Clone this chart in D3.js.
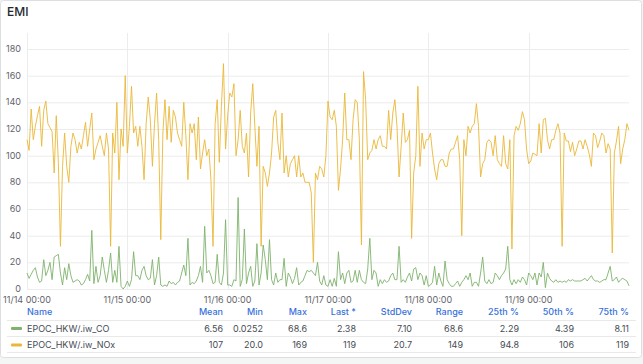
<!DOCTYPE html>
<html>
<head>
<meta charset="utf-8">
<script src="https://cdn.jsdelivr.net/npm/d3@7"></script>
<style>
  html, body { margin: 0; padding: 0; background: #f4f5f5; }
  body { width: 643px; height: 364px; overflow: hidden; font-family: Inter, "Noto Sans", sans-serif; }
  svg { display: block; }
</style>
</head>
<body>
<svg id="chart" width="643" height="364"></svg>
<script>
// series values, one point every 30 minutes from 11/14 00:00 to 11/20 00:00
const coValues = [
  12,8,11,14,16,9,5,6,22,10,14,20,7,24,25,26,12,3,16,7,19,10,5,6,7,6,3,4,7,11,6,44,4,17,5,10,24,14,5,14,27,5,14,5,32,2,0.0252,2,
  6,2,7,28,10,10,7,14,17,10,7,8,22,3,10,24,3,2,3,2,6,4,5,3,5,6,12,18,10,38,3,5,4,6,10,17,5,47,12,14,10,4,5,26,5,3,12,52,
  3,3,2,7,6,68.6,2,7,45,4,12,17,2,6,34,3,12,33,22,7,37,7,3,12,5,7,7,23,2,12,9,4,8,16,3,5,6,10,14,13,14,12,10,20,6,3,10,3,
  2,7,2,8,2,28,7,12,4,12,14,5,6,14,5,14,7,5,4,15,38,7,14,12,2,7,4,7,5,6,10,12,7,7,32,5,7,5,9,12,6,15,16,7,12,10,3,10,
  2,3,5,17,3,12,6,2,21,7,4,2,2,4,6,2,5,7,10,7,12,2,5,5,2,12,24,6,4,7,4,5,12,10,7,10,12,15,32,7,3,7,4,7,5,9,7,3,
  12,10,7,12,3,12,9,20,1,12,8,6,5,7,5,6,5,6,5,7,6,7,6,6,6,6,7,8,6,8,10,7,6,6,5,6,7,7,12,17,6,7,9,5,7,8,7,6,
  2.38
];
const noxValues = [
  112,104,135,112,122,130,137,107,134,141,124,121,118,87,130,95,32,92,117,92,80,107,117,112,102,110,105,115,125,107,120,132,97,105,110,115,107,100,117,105,32,117,102,140,82,120,107,160,
  102,122,152,117,122,107,122,107,82,124,144,127,92,124,147,112,37,117,142,112,137,110,134,129,117,112,107,140,115,82,124,117,124,97,129,90,102,112,100,105,82,32,124,142,95,137,169,105,
  130,147,144,154,100,112,134,107,102,117,84,132,154,122,92,122,32,92,87,77,87,102,129,134,110,97,132,87,100,84,94,97,100,84,100,84,87,80,80,80,72,20,87,82,92,90,84,100,
  141,129,127,134,122,74,90,112,147,112,112,97,127,142,140,112,33,163,142,97,102,104,112,105,112,115,107,107,105,134,112,132,142,122,84,107,132,110,112,119,38,87,100,152,92,117,105,112,
  112,117,102,90,82,94,97,97,92,92,102,105,105,110,115,97,40,112,100,122,117,122,124,139,122,84,94,97,110,112,110,100,115,97,94,92,115,94,90,112,30,115,122,119,124,133,127,105,
  94,96,102,101,100,124,102,127,128,112,105,112,112,119,124,117,32,117,111,111,103,110,100,105,111,111,105,112,107,101,92,117,115,106,111,117,115,102,109,105,27,102,111,122,94,105,112,124,
  119
];

const seriesNames = ["EPOC_HKW/.iw_CO", "EPOC_HKW/.iw_NOx"];
const seriesColors = ["#7EB26D", "#EAB839"];
const statHeaders = ["Mean", "Min", "Max", "Last *", "StdDev", "Range", "25th %", "50th %", "75th %"];
const coStats = ["6.56", "0.0252", "68.6", "2.38", "7.10", "68.6", "2.29", "4.39", "8.11"];
const noxStats = ["107", "20.0", "169", "119", "20.7", "149", "94.8", "106", "119"];
const yTicks = [0, 20, 40, 60, 80, 100, 120, 140, 160, 180];

const startTime = Date.UTC(2023, 10, 14);
const stepMs = 30 * 60 * 1000;

const svg = d3.select("#chart");

// panel
svg.append("rect")
  .attr("x", 0.5).attr("y", 0.5)
  .attr("width", 641).attr("height", 357)
  .attr("rx", 3)
  .attr("fill", "#ffffff")
  .attr("stroke", "#dcdee1");

svg.append("text")
  .attr("x", 7).attr("y", 16)
  .attr("font-size", "12px")
  .attr("font-weight", 500)
  .attr("fill", "#24292e")
  .text("EMI");

const x = d3.scaleUtc()
  .domain([new Date(startTime), new Date(startTime + 6 * 24 * 3600 * 1000)])
  .range([27, 629]);

const y = d3.scaleLinear()
  .domain([0, 192])
  .range([289, 33]);

const dayTicks = d3.range(0, 6).map(d => new Date(startTime + d * 24 * 3600 * 1000));

// grid
const grid = svg.append("g");
grid.selectAll(".hgrid")
  .data(yTicks)
  .join("line")
  .attr("x1", 27).attr("x2", 629)
  .attr("y1", d => y(d) + 0.5).attr("y2", d => y(d) + 0.5)
  .attr("stroke", "#ececec");
grid.selectAll(".vgrid")
  .data(dayTicks)
  .join("line")
  .attr("x1", d => Math.round(x(d)) + 0.5).attr("x2", d => Math.round(x(d)) + 0.5)
  .attr("y1", 33).attr("y2", 289)
  .attr("stroke", "#ececec");

// y axis labels
svg.append("g").selectAll("text")
  .data(yTicks)
  .join("text")
  .attr("x", 21)
  .attr("y", d => y(d))
  .attr("dy", "0.35em")
  .attr("text-anchor", "end")
  .attr("font-size", "9px")
  .attr("fill", "#5f646b")
  .text(d => d);

// x axis labels
const fmt = d3.utcFormat("%m/%d %H:%M");
svg.append("g").selectAll("text")
  .data(dayTicks)
  .join("text")
  .attr("x", d => x(d))
  .attr("y", 300)
  .attr("dy", "0.35em")
  .attr("text-anchor", "middle")
  .attr("font-size", "9px")
  .attr("fill", "#5f646b")
  .text(d => fmt(d));

// lines
const line = d3.line()
  .x((d, i) => x(new Date(startTime + i * stepMs)))
  .y(d => y(d));

[noxValues, coValues].forEach((vals, i) => {
  svg.append("path")
    .datum(vals)
    .attr("fill", "none")
    .attr("stroke", i === 0 ? seriesColors[1] : seriesColors[0])
    .attr("stroke-width", 1)
    .attr("stroke-opacity", 0.9)
    .attr("stroke-linejoin", "round")
    .attr("d", line);
});

// legend table
const colRight = [223, 263, 307, 356, 412, 463, 519, 574, 629];
const legend = svg.append("g").attr("font-size", "9px");

legend.append("text")
  .attr("x", 27).attr("y", 312).attr("dy", "0.35em")
  .attr("fill", "#3871dc").attr("font-weight", 500)
  .text("Name");
legend.selectAll(".hdr")
  .data(statHeaders)
  .join("text")
  .attr("x", (d, i) => colRight[i]).attr("y", 312).attr("dy", "0.35em")
  .attr("text-anchor", "end")
  .attr("fill", "#3871dc").attr("font-weight", 500)
  .text(d => d);

[320.5, 336.5, 352.5].forEach(yy => {
  legend.append("line")
    .attr("x1", 7).attr("x2", 636)
    .attr("y1", yy).attr("y2", yy)
    .attr("stroke", "#e9e9e9");
});

const rows = [
  { name: seriesNames[0], color: seriesColors[0], stats: coStats, y: 328.5 },
  { name: seriesNames[1], color: seriesColors[1], stats: noxStats, y: 345 }
];
rows.forEach(r => {
  legend.append("rect")
    .attr("x", 11).attr("y", r.y - 1.5)
    .attr("width", 11).attr("height", 3)
    .attr("rx", 1)
    .attr("fill", r.color);
  legend.append("text")
    .attr("x", 27).attr("y", r.y).attr("dy", "0.35em")
    .attr("fill", "#464c54")
    .text(r.name);
  legend.selectAll(null)
    .data(r.stats)
    .join("text")
    .attr("x", (d, i) => colRight[i]).attr("y", r.y).attr("dy", "0.35em")
    .attr("text-anchor", "end")
    .attr("fill", "#464c54")
    .text(d => d);
});
</script>
</body>
</html>
